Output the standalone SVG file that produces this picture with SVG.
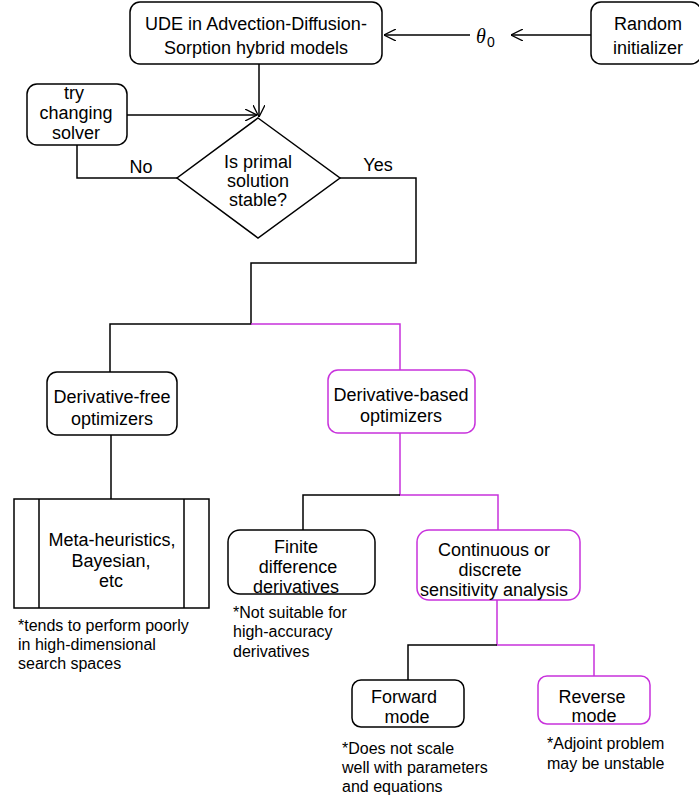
<svg xmlns="http://www.w3.org/2000/svg" width="699" height="799" viewBox="0 0 699 799">
<style>
.b{fill:#fff;stroke:#000;stroke-width:1.5}
.m{fill:#fff;stroke:#c832dc;stroke-width:1.5}
.t{font-family:"Liberation Sans",Arial,sans-serif;font-size:18px;fill:#000;text-anchor:middle}
.n{font-family:"Liberation Sans",Arial,sans-serif;font-size:16px;fill:#000}
.lk{fill:none;stroke:#000;stroke-width:1.5}
.lm{fill:none;stroke:#c832dc;stroke-width:1.5}
</style>
<defs>
<marker id="ar" viewBox="0 0 12 12" refX="12" refY="6" markerWidth="12" markerHeight="12" markerUnits="userSpaceOnUse" orient="auto">
<path d="M0,0 L12,6 L0,12" fill="none" stroke="#000" stroke-width="1.3"/>
</marker>
</defs>
<g id="connectors">
<path class="lk" d="M259,64 V117" marker-end="url(#ar)"/>
<path class="lk" d="M127,115 H257" marker-end="url(#ar)"/>
<path class="lk" d="M591,35 H511" marker-end="url(#ar)"/>
<path class="lk" d="M470,35 H384" marker-end="url(#ar)"/>
<path class="lk" d="M177,178 H77 V145"/>
<path class="lk" d="M340,178 H416 V263 H251 V324 H110 V372"/>
<path class="lm" d="M251,324 H400 V370"/>
<path class="lk" d="M111,435 V499"/>
<path class="lm" d="M400,433 V495 H498 V530"/>
<path class="lk" d="M400,495 H303 V530"/>
<path class="lm" d="M497,600 V645 H594 V676"/>
<path class="lk" d="M497,645 H408 V680"/>
</g>
<g id="ude">
<rect class="b" x="130" y="2" width="252" height="62" rx="10"/>
<text class="t" x="256" y="30">UDE in Advection-Diffusion-</text>
<text class="t" x="256" y="54">Sorption hybrid models</text>
</g>
<g id="random">
<rect class="b" x="591" y="2" width="110" height="62" rx="10"/>
<text class="t" x="648" y="30">Random</text>
<text class="t" x="648" y="54">initializer</text>
</g>
<g id="theta">
<text x="476" y="43" style="font-family:'Liberation Serif',serif;font-style:italic;font-size:20px">θ</text>
<text x="487" y="47" style="font-family:'Liberation Sans',sans-serif;font-size:14px">0</text>
</g>
<g id="solver">
<rect class="b" x="27" y="84" width="100" height="61" rx="10"/>
<text class="t" x="74" y="99">try</text>
<text class="t" x="76" y="119">changing</text>
<text class="t" x="76" y="139">solver</text>
</g>
<g id="decision">
<path class="b" d="M258,118 L340,178 L258,238 L177,178 Z"/>
<text class="t" x="258" y="168">Is primal</text>
<text class="t" x="258" y="187">solution</text>
<text class="t" x="258" y="206">stable?</text>
</g>
<text class="t" x="141" y="173">No</text>
<text class="t" x="378" y="171">Yes</text>
<g id="dfree">
<rect class="b" x="47" y="372" width="130" height="63" rx="10"/>
<text class="t" x="112" y="403">Derivative-free</text>
<text class="t" x="112" y="425">optimizers</text>
</g>
<g id="dbased">
<rect class="m" x="328" y="370" width="147" height="63" rx="10"/>
<text class="t" x="401" y="401">Derivative-based</text>
<text class="t" x="401" y="422">optimizers</text>
</g>
<g id="meta">
<rect class="b" x="14" y="499" width="195" height="109"/>
<path class="lk" d="M39,499 V608 M184,499 V608"/>
<text class="t" x="112" y="546">Meta-heuristics,</text>
<text class="t" x="111" y="567">Bayesian,</text>
<text class="t" x="111" y="587">etc</text>
<text class="n" x="18" y="631">*tends to perform poorly</text>
<text class="n" x="18" y="650">in high-dimensional</text>
<text class="n" x="18" y="669">search spaces</text>
</g>
<g id="finite">
<rect class="b" x="228" y="530" width="147" height="64" rx="12"/>
<text class="t" x="296" y="553">Finite</text>
<text class="t" x="298" y="573">difference</text>
<text class="t" x="296" y="593">derivatives</text>
<text class="n" x="233" y="618">*Not suitable for</text>
<text class="n" x="233" y="637">high-accuracy</text>
<text class="n" x="233" y="657">derivatives</text>
</g>
<g id="sens">
<rect class="m" x="417" y="530" width="163" height="70" rx="12"/>
<text class="t" x="494" y="556">Continuous or</text>
<text class="t" x="490" y="576">discrete</text>
<text class="t" x="494" y="596">sensitivity analysis</text>
</g>
<g id="forward">
<rect class="b" x="352" y="680" width="112" height="47" rx="9"/>
<text class="t" x="404" y="703">Forward</text>
<text class="t" x="407" y="723">mode</text>
<text class="n" x="342" y="754">*Does not scale</text>
<text class="n" x="342" y="773">well with parameters</text>
<text class="n" x="342" y="792">and equations</text>
</g>
<g id="reverse">
<rect class="m" x="538" y="676" width="112" height="48" rx="9"/>
<text class="t" x="592" y="703">Reverse</text>
<text class="t" x="594" y="722">mode</text>
<text class="n" x="547" y="749">*Adjoint problem</text>
<text class="n" x="547" y="769">may be unstable</text>
</g>
</svg>
